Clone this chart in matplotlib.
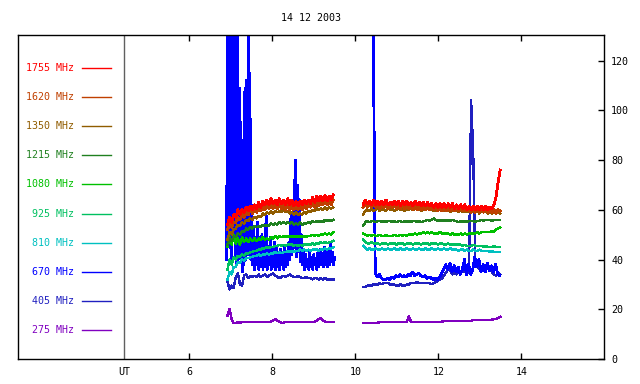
import matplotlib
matplotlib.use("Agg")
import matplotlib.pyplot as plt
import numpy as np

plt.rcParams['font.family'] = ['DejaVu Sans Mono']

title = '14 12 2003'
labels = ['1755 MHz', '1620 MHz', '1350 MHz', '1215 MHz', '1080 MHz',
          '925 MHz', '810 MHz', '670 MHz', '405 MHz', '275 MHz']
colors = ['#ff0000', '#c04000', '#905c00', '#208020', '#00c000',
          '#00c060', '#00c0c0', '#0000ff', '#2020c0', '#8000c0']

# sampling: first block starts 6.92 UT, second block 10.19 UT, 0.05 h step
seg1_start = 6.92
seg2_start = 10.19
step = 0.05

f1755_a = [54, 57, 55, 58, 57, 60, 58, 60, 59, 61,
           59.5, 61.5, 60, 62, 60.5, 63, 61, 63.5, 62, 64,
           62, 64.5, 62.5, 64, 62, 64.5, 62.5, 64, 62, 64.5,
           62, 64, 61.5, 63.5, 61.5, 63.5, 62, 64, 62.5, 64,
           62.5, 65, 63, 65.5, 63.5, 65.5, 63.5, 66, 63.5, 65.5,
           64, 66]
f1755_b = [62, 64, 62.5, 63.5, 62, 64, 62, 63.5, 62, 63.5,
           62, 64, 62, 63, 62, 63.5, 62, 63.5, 61.5, 63.5,
           62, 63.5, 62, 63, 61.5, 63.5, 62, 63, 61.5, 63,
           61.5, 63, 61.5, 62.5, 61, 62.5, 61, 62.5, 61, 62.5,
           61, 62.5, 61, 62.5, 60.5, 62, 60.5, 62, 60.5, 62,
           60, 61.5, 60, 61.5, 60, 61.5, 60, 61.5, 60, 61.5,
           60, 61, 60.5, 62, 65, 71, 76]

f1620_a = [52, 54, 53, 55, 55, 57, 56, 58, 57, 59,
           58, 60, 58.5, 60, 59, 61, 59.5, 61.5, 60, 62,
           60.5, 62, 60.5, 62, 60.5, 62, 60.5, 62, 60, 62,
           60, 61.5, 60, 61.5, 60, 61.5, 60, 62, 60.5, 62,
           61, 62.5, 61, 63, 61.5, 63.5, 62, 63.5, 62, 63.5,
           62, 64]
f1620_b = [61, 62.5, 61, 62, 61, 62.5, 61, 62, 60.5, 62,
           61, 62, 60.5, 62, 61, 62, 60.5, 61.5, 60.5, 62,
           60.5, 61.5, 60.5, 61.5, 60, 61.5, 60, 61.5, 60, 61,
           60, 61, 60, 61, 60, 61, 59.5, 61, 59.5, 61,
           59.5, 61, 59.5, 60.5, 59.5, 60.5, 59.5, 60.5, 59.5, 60.5,
           59.5, 60.5, 59, 60.5, 59, 60.5, 59, 60, 59, 60,
           59, 60, 59, 60, 58.5, 60, 59.5]

f1350_a = [48, 51, 50, 52, 52.5, 54, 53.5, 55, 54.5, 56,
           55.5, 56.5, 56, 57, 56.5, 57.5, 57, 58.5, 58, 59,
           58.5, 59.5, 58.5, 59.5, 59, 59.5, 59, 60, 59, 59.5,
           58.5, 59, 58, 59, 58, 58.5, 58, 59, 58.5, 59.5,
           59, 60, 59.5, 60.5, 60, 60.5, 60, 61, 60, 61,
           60.5, 61]
f1350_b = [58, 59.5, 60, 59.5, 60.5, 59.5, 60, 60.5, 59.5, 60.5,
           60, 59.5, 60.5, 60, 60.5, 59.5, 60, 60.5, 60, 60.5,
           59.5, 60.5, 60, 60.5, 60, 60.5, 60, 60.5, 59.5, 60.5,
           60, 60.5, 60, 60.5, 59.5, 60, 59.5, 60.5, 59.5, 60,
           59.5, 60, 59, 60, 59.5, 60, 59, 60, 59, 59.5,
           59, 60, 59, 59.5, 59, 60, 58.5, 59.5, 59, 59.5,
           58.5, 59.5, 58.5, 59.5, 58.5, 59, 58.5]

f1215_a = [46, 48.5, 47.5, 49.5, 49, 50.5, 50, 51.5, 51, 52.5,
           52, 53, 52.5, 53.5, 53, 53.5, 53, 54, 53.5, 54,
           53.5, 54.5, 54, 54.5, 54, 55, 54.5, 55, 54.5, 55,
           54.5, 55, 54, 54.5, 54, 55, 54, 54.5, 54.5, 55,
           54.5, 55.5, 55, 55.5, 55, 55.5, 55, 56, 55.5, 56,
           55.5, 56]
f1215_b = [53.5, 55, 55.5, 55, 55.5, 55.5, 55, 55.5, 55.5, 55,
           55.5, 55, 55.5, 55.5, 55, 55.5, 55, 55.5, 55.5, 55,
           55.5, 55, 55.5, 55, 55.5, 55.5, 55, 55.5, 55, 55.5,
           55.5, 56, 55.5, 56, 56.5, 56, 55.5, 56, 55.5, 56,
           55.5, 56, 55.5, 56, 55.5, 55.5, 55, 55.5, 55, 55.5,
           55, 55.5, 55.5, 55.5, 55, 55.5, 55.5, 56, 55.5, 56,
           56, 56, 55.5, 56, 56, 56, 56]

f1080_a = [45, 49, 46, 50, 46.5, 48.5, 46, 49, 47, 48.5,
           47, 48.5, 47.5, 48.5, 47.5, 48.5, 48, 49, 48, 48.5,
           48, 49, 48.5, 49.5, 48.5, 49.5, 49, 49.5, 49, 49.5,
           49, 49.5, 49, 49.5, 49, 49.5, 49, 49.5, 49, 49.5,
           49.5, 50, 49.5, 50, 49.5, 50, 50, 50.5, 50, 50.5,
           50, 51]
f1080_b = [50.5, 50, 49.5, 50, 49.5, 50, 49.5, 49.5, 50, 49.5,
           49.5, 50, 49.5, 49.5, 49.5, 50, 49.5, 49.5, 50, 49.5,
           50, 49.5, 50, 50, 50, 50.5, 50, 50.5, 50.5, 51,
           50.5, 51, 50.5, 51, 50.5, 50.5, 50.5, 51, 50.5, 50.5,
           50.5, 50.5, 50, 50.5, 50, 50, 50, 50.5, 50, 50.5,
           50, 50.5, 50.5, 50.5, 50.5, 51, 50.5, 51, 51, 51,
           51, 51, 51.5, 51, 52, 52.5, 53]

f925_a = [36, 40, 38, 41, 40, 41.5, 41, 42, 41.5, 42.5,
          42.5, 43, 43, 43.5, 43.5, 44, 44, 44.5, 44.5, 45,
          44.5, 45, 45, 45.5, 45.5, 46, 45.5, 46, 45.5, 46,
          46, 46, 45.5, 46, 45.5, 46, 45.5, 46, 46, 46,
          46, 46.5, 46, 46.5, 46.5, 47, 46.5, 47, 46.5, 47,
          47, 47.5]
f925_b = [48, 47, 46.5, 46.5, 47, 46.5, 46.5, 46.5, 46, 46.5,
          46.5, 46.5, 46, 46.5, 46.5, 46.5, 46, 46.5, 46.5, 46.5,
          46, 46.5, 46.5, 46.5, 46, 46.5, 46.5, 46.5, 46, 46.5,
          46.5, 46.5, 46, 46.5, 46.5, 46.5, 46, 46.5, 46.5, 46,
          46, 46.5, 46, 46, 46, 46, 46, 46, 45.5, 46,
          45.5, 45.5, 45.5, 46, 45.5, 45.5, 45.5, 45.5, 45, 45.5,
          45, 45, 45, 45.5, 45, 45, 45]

f810_a = [32, 35, 34, 37, 37, 39, 38.5, 40, 39.5, 40.5,
          40.5, 41, 41, 41.5, 41.5, 42, 41.5, 42, 42, 42.5,
          42, 42.5, 42.5, 43, 42.5, 43, 42.5, 43, 43, 43.5,
          43, 43.5, 43, 43.5, 43.5, 44, 43.5, 44, 43.5, 44,
          43.5, 44, 44, 44, 43.5, 44, 44, 44.5, 44, 44.5,
          44.5, 45]
f810_b = [45.5, 44.5, 44, 44.5, 44, 44, 44.5, 44, 44, 44.5,
          44, 44, 44.5, 44, 44, 44.5, 44, 44, 44.5, 44,
          44, 44.5, 44, 44, 44.5, 44, 44, 44.5, 44, 44,
          44.5, 44, 44, 44.5, 44, 44, 44.5, 44, 44, 44.5,
          44, 44, 44.5, 44, 44, 44, 43.5, 44, 44, 43.5,
          44, 43.5, 43.5, 44, 43.5, 43.5, 44, 43.5, 43.5, 43.5,
          43.5, 43, 43.5, 43, 43, 43, 43]

# 670 MHz: burst sampled every 0.02 h from 6.90, then every 0.025 h from 7.55
f670_burst = [40, 140, 100, 140, 45, 140, 40, 140, 86, 140,
              42, 140, 38, 140, 40, 45, 109, 40, 88, 35,
              84, 38, 109, 40, 112, 42, 140, 45, 115, 40,
              62, 38]
f670_a = [52, 36, 49, 38, 55, 36, 47, 37, 50, 36,
          46, 37, 58, 36, 45, 38, 49, 36, 44, 37,
          47, 36, 45, 37, 43, 36, 44, 38, 42, 36,
          45, 37, 43, 38, 47, 40, 58, 42, 62, 45,
          80, 41, 70, 43, 64, 39, 50, 38, 43, 36,
          42, 37, 40, 36, 43, 37, 41, 36, 42, 38,
          40, 36, 43, 37, 44, 38, 42, 37, 45, 38,
          43, 37, 44, 38, 46, 39, 43, 38, 41]
# second block of 670 MHz begins at 10.43
f670_b = [140, 34.5, 33, 34, 32.5, 32, 31.8, 32.5, 32, 33,
          32.5, 33.5, 33, 34, 33, 33.5, 33, 34, 33.5, 35,
          33.5, 34, 34.5, 33.5, 33, 33.5, 32.5, 33, 32.5, 32,
          32.5, 32, 33, 34.5, 36, 38, 36, 38.5, 35, 37.5,
          35, 37, 34, 36, 40, 34, 38, 34, 36, 41,
          37, 40, 35, 38, 35, 38.5, 35.5, 37.5, 35, 38,
          34, 33.5]

f405_a = [31, 28, 29.5, 28.5, 33, 34.5, 30, 29.5, 33.5, 34,
          32.5, 33.5, 33, 33.5, 33, 34, 33, 33.5, 34, 33,
          33.5, 34, 34.5, 33.5, 33, 32.5, 33, 33.5, 33, 33.5,
          34, 33.5, 33, 33, 33.5, 33, 32.5, 32.5, 33, 32.5,
          32.5, 32, 32.5, 32.5, 32, 32.5, 32, 32.5, 32, 32,
          32, 32]
f405_b = [29, 29, 29.5, 29.5, 29.5, 30, 30, 30, 30.5, 30,
          30.5, 30.5, 30.5, 30, 30, 30, 29.5, 29.5, 30, 29.5,
          29.5, 30, 30, 30.5, 30.5, 30.5, 31, 30.5, 30.5, 30.5,
          30.5, 30.5, 30.5, 30, 30.5, 31, 31.5, 32, 32.5, 33.5,
          35, 36, 35.5, 34, 34.5, 34, 35.5, 35, 36, 35,
          34.5, 35, 104, 84, 38.5, 37, 36, 37, 36.5, 37.5,
          37, 37.5, 35, 34, 33.5, 34.5, 34]

f275_a = [17.5, 20, 16, 14.5, 14.5, 14.8, 14.5, 14.8, 14.8, 15,
          14.8, 15, 15, 15, 14.8, 15, 15, 14.8, 14.8, 15,
          15, 15, 15.5, 16, 15.5, 15, 14.5, 14.5, 15, 15,
          15, 15, 15, 15, 14.8, 14.8, 15, 15, 15, 14.8,
          15, 15, 15, 15.5, 16, 16.5, 15.5, 15, 15, 15,
          15, 15]
f275_b = [14.6, 14.6, 14.6, 14.6, 14.6, 14.6, 14.6, 14.6, 14.8, 14.8,
          14.8, 14.8, 14.8, 14.8, 14.8, 14.8, 14.8, 14.8, 14.8, 14.8,
          14.8, 15, 17.3, 15, 15, 15, 15, 15, 14.8, 14.8,
          14.8, 15, 15, 15, 15, 15, 15, 15, 15, 15.2,
          15.2, 15.2, 15.2, 15.2, 15.4, 15.4, 15.4, 15.4, 15.4, 15.4,
          15.4, 15.4, 15.4, 15.6, 15.6, 15.6, 15.6, 15.6, 15.8, 15.8,
          15.8, 15.8, 15.8, 16, 16, 16.5, 17]


def times(start, vals, dt=step):
    return start + dt * np.arange(len(vals))


def join(*parts):
    # each part is (start, values, dt); a NaN between blocks breaks the line
    ts, vs = [], []
    for i, (start, vals, dt) in enumerate(parts):
        if i > 0:
            ts.append([np.nan])
            vs.append([np.nan])
        ts.append(times(start, vals, dt))
        vs.append(vals)
    return np.concatenate(ts), np.concatenate(vs)


series = {
    '275 MHz': join((seg1_start, f275_a, step), (seg2_start, f275_b, step)),
    '405 MHz': join((seg1_start, f405_a, step), (seg2_start, f405_b, step)),
    '670 MHz': join((6.90, f670_burst, 0.02), (7.55, f670_a, 0.025),
                    (10.43, f670_b, step)),
    '810 MHz': join((seg1_start, f810_a, step), (seg2_start, f810_b, step)),
    '925 MHz': join((seg1_start, f925_a, step), (seg2_start, f925_b, step)),
    '1080 MHz': join((seg1_start, f1080_a, step), (seg2_start, f1080_b, step)),
    '1215 MHz': join((seg1_start, f1215_a, step), (seg2_start, f1215_b, step)),
    '1350 MHz': join((seg1_start, f1350_a, step), (seg2_start, f1350_b, step)),
    '1620 MHz': join((seg1_start, f1620_a, step), (seg2_start, f1620_b, step)),
    '1755 MHz': join((seg1_start, f1755_a, step), (seg2_start, f1755_b, step)),
}
color_of = dict(zip(labels, colors))

fig = plt.figure(figsize=(6.4, 3.84), dpi=100)
ax = fig.add_axes([18 / 640, 25 / 384, 586.3 / 640, 324 / 384])

for name, (t, v) in series.items():
    lw = 1.3 if name in ('670 MHz', '1755 MHz', '1620 MHz') else 1.0
    ax.plot(t, v, color=color_of[name], lw=lw, antialiased=False)

ax.set_xlim(1.872, 16.0)
ax.set_ylim(0, 130.3)

# UT marker line and label
ut_x = 4.434
ax.axvline(ut_x, color='#606060', lw=1.0)
ax.text(ut_x, -0.025, 'UT', transform=ax.get_xaxis_transform(),
        ha='center', va='top', fontsize=7.2)

# legend column on the left
for i, (lab, col) in enumerate(zip(labels, colors)):
    y = 0.899 - i * 0.0901
    ax.text(0.096, y, lab, color=col, transform=ax.transAxes,
            ha='right', va='center', fontsize=7.2)
    ax.plot([0.1097, 0.158], [y, y], color=col, lw=1.0, transform=ax.transAxes)

ax.set_xticks([6, 8, 10, 12, 14])
ax.set_yticks([0, 20, 40, 60, 80, 100, 120])
ax.tick_params(axis='x', direction='in', length=4, width=1, top=True,
               bottom=True, labelsize=7.2, pad=6)
ax.tick_params(axis='y', direction='in', length=4, width=1, left=False,
               right=True, labelleft=False, labelright=True, labelsize=7.2, pad=5)
for s in ax.spines.values():
    s.set_linewidth(1.0)

ax.set_title(title, fontsize=7.2, pad=10)

fig.savefig('out.png', dpi=100)
